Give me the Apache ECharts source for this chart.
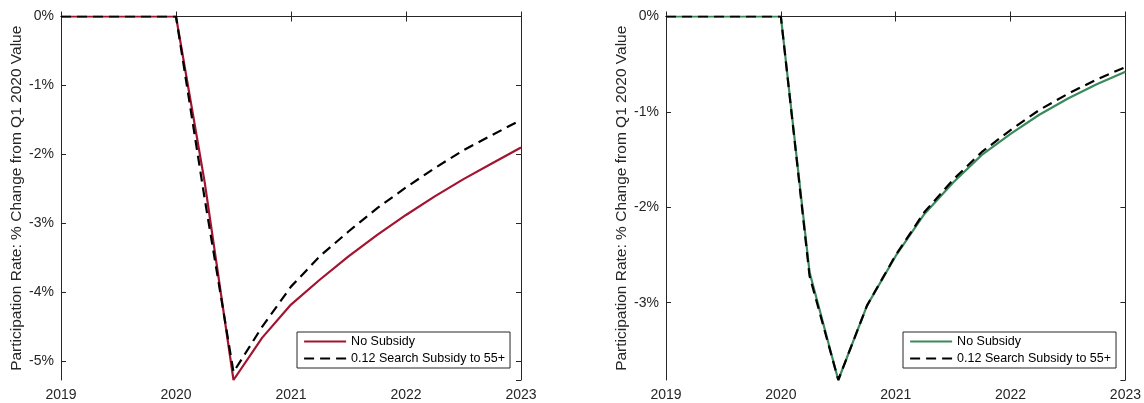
<!DOCTYPE html>
<html>
<head>
<meta charset="utf-8">
<script src="https://cdn.jsdelivr.net/npm/echarts@6/dist/echarts.min.js"></script>
<style>
  html, body { margin: 0; padding: 0; background: #fff; }
  #chart { width: 1144px; height: 403px; }
</style>
</head>
<body>
<div id="chart"></div>
<script>
// Quarterly dates, 2019Q1 through 2023Q1
const quarters = [2019, 2019.25, 2019.5, 2019.75, 2020, 2020.25, 2020.5, 2020.75,
  2021, 2021.25, 2021.5, 2021.75, 2022, 2022.25, 2022.5, 2022.75, 2023];
const yearTicks = [2019, 2020, 2021, 2022, 2023];

// Panel A: participation rate, % change from Q1 2020
const leftNoSubsidy = [0, 0, 0, 0, 0, -2.41, -5.275, -4.66,
  -4.18, -3.82, -3.48, -3.17, -2.88, -2.61, -2.36, -2.13, -1.90];
const leftSubsidy = [0, 0, 0, 0, 0, -2.65, -5.16, -4.50,
  -3.92, -3.48, -3.12, -2.78, -2.48, -2.20, -1.94, -1.72, -1.50];

// Panel B: participation rate, % change from Q1 2020
const rightNoSubsidy = [0, 0, 0, 0, 0, -2.68, -3.81, -3.03,
  -2.51, -2.07, -1.74, -1.45, -1.23, -1.03, -0.86, -0.71, -0.58];
const rightSubsidy = [0, 0, 0, 0, 0, -2.72, -3.81, -3.03,
  -2.50, -2.05, -1.71, -1.42, -1.19, -0.98, -0.81, -0.66, -0.53];

const seriesNames = ['No Subsidy', '0.12 Search Subsidy to 55+'];
const yTitle = 'Participation Rate: % Change from Q1 2020 Value';

const RED = '#a2142f';
const GREEN = '#3b8a5c';
const AXIS = '#262626';
const FONT = 'Liberation Sans, Arial, Helvetica, sans-serif';
const DASH = [10, 6];

const pairs = vals => quarters.map((q, i) => [q, vals[i]]);
const dataMin = vals => Math.min.apply(null, vals);

function xAxes(gridIndex) {
  const base = {
    type: 'value', gridIndex, min: yearTicks[0], max: yearTicks[yearTicks.length - 1],
    interval: 1, splitLine: { show: false },
    axisLine: { show: true, lineStyle: { color: AXIS, width: 1 } },
    axisTick: { show: true, inside: true, length: 5, lineStyle: { color: AXIS } }
  };
  return [
    Object.assign({}, base, {
      position: 'bottom',
      axisLabel: { color: AXIS, fontFamily: FONT, fontSize: 14, margin: 8,
        formatter: v => String(Math.round(v)) }
    }),
    Object.assign({}, base, { position: 'top', axisLabel: { show: false } })
  ];
}

function yAxes(gridIndex, lo) {
  const base = {
    type: 'value', gridIndex, min: lo, max: 0, splitNumber: 5,
    splitLine: { show: false },
    axisLine: { show: true, lineStyle: { color: AXIS, width: 1 } },
    axisTick: { show: true, inside: true, length: 5, lineStyle: { color: AXIS } }
  };
  return [
    Object.assign({}, base, {
      position: 'left',
      name: yTitle, nameLocation: 'middle', nameGap: 36, nameRotate: 90,
      nameTextStyle: { color: AXIS, fontFamily: FONT, fontSize: 15.5 },
      axisLabel: { color: AXIS, fontFamily: FONT, fontSize: 14, margin: 7,
        showMinLabel: false, formatter: v => Math.round(v) + '%' }
    }),
    Object.assign({}, base, { position: 'right', axisLabel: { show: false } })
  ];
}

function lineSeries(name, vals, color, dashed, axisIdx) {
  return {
    type: 'line', name, data: pairs(vals),
    xAxisIndex: axisIdx, yAxisIndex: axisIdx,
    symbol: 'none', smooth: false, animation: false,
    z: dashed ? 3 : 2,
    lineStyle: { color, width: 2.2, type: dashed ? DASH : 'solid' },
    itemStyle: { color }
  };
}

// Legend entries show only the line sample, no marker
function legend(left, color) {
  return {
    left, top: 332, orient: 'vertical', selectedMode: false,
    backgroundColor: '#fff', borderColor: AXIS, borderWidth: 1,
    padding: [3, 5, 3, 6], itemWidth: 42, itemHeight: 14, itemGap: 4,
    textStyle: { color: '#000', fontFamily: FONT, fontSize: 12.5 },
    data: [
      { name: seriesNames[0], lineStyle: { color, width: 2.2, type: 'solid' },
        itemStyle: { color, opacity: 0, borderWidth: 0 } },
      { name: seriesNames[1], lineStyle: { color: '#000', width: 2.2, type: DASH },
        itemStyle: { color: '#000', opacity: 0, borderWidth: 0 } }
    ]
  };
}

const chart = echarts.init(document.getElementById('chart'), null, { renderer: 'canvas' });
chart.setOption({
  animation: false,
  backgroundColor: '#fff',
  grid: [
    { left: 61, right: 623, top: 16.5, bottom: 23 },
    { left: 666, right: 18, top: 16.5, bottom: 23 }
  ],
  xAxis: xAxes(0).concat(xAxes(1)),
  yAxis: yAxes(0, dataMin(leftNoSubsidy)).concat(yAxes(1, dataMin(rightNoSubsidy))),
  legend: [legend(297, RED), legend(903, GREEN)],
  series: [
    lineSeries(seriesNames[0], leftNoSubsidy, RED, false, 0),
    lineSeries(seriesNames[1], leftSubsidy, '#000', true, 0),
    lineSeries(seriesNames[0], rightNoSubsidy, GREEN, false, 2),
    lineSeries(seriesNames[1], rightSubsidy, '#000', true, 2)
  ]
});
</script>
</body>
</html>
